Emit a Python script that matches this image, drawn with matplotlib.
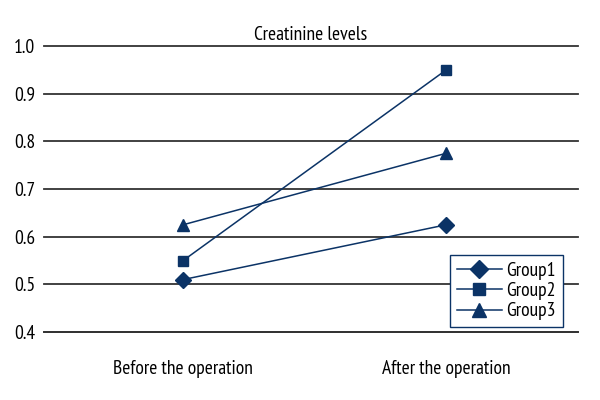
import matplotlib
matplotlib.use('Agg')
import matplotlib.pyplot as plt

plt.rcParams['font.family'] = ['PT Sans Narrow', 'DejaVu Sans']

# data
categories = ['Before the operation', 'After the operation']
group1 = [0.51, 0.625]
group2 = [0.55, 0.95]
group3 = [0.625, 0.775]
labels = ['Group1', 'Group2', 'Group3']
markers = ['D', 's', '^']
yticks = [0.4, 0.5, 0.6, 0.7, 0.8, 0.9, 1.0]

navy = '#0b3366'

fig = plt.figure(figsize=(6, 4), dpi=100)
ax = fig.add_axes([0.073, 0.17, 0.89, 0.715])

x = list(range(len(categories)))
sizes = [8, 7.5, 9]
for vals, lab, mk, ms in zip([group1, group2, group3], labels, markers, sizes):
    ax.plot(x, vals, color=navy, lw=1.1, marker=mk, ms=ms, label=lab, zorder=3)

ax.set_xlim(-0.53, 1.5)
ax.set_ylim(0.4, 1.0)
ax.set_yticks(yticks)
ax.set_yticklabels([f'{v:.1f}' for v in yticks], fontsize=14)
ax.set_xticks(x)
ax.set_xticklabels(categories, fontsize=14)
ax.tick_params(axis='x', length=0, pad=20)
ax.tick_params(axis='y', length=0, pad=6)
ax.grid(axis='y', color='#333333', lw=1.3)
for gl in ax.get_ygridlines():
    gl.set_clip_on(False)
for s in ['top', 'right', 'left']:
    ax.spines[s].set_visible(False)
ax.spines['bottom'].set_color('#333333')
ax.spines['bottom'].set_linewidth(1.3)
ax.set_axisbelow(True)

ax.set_title('Creatinine levels', fontsize=14, pad=4)

leg = ax.legend(loc='lower right', bbox_to_anchor=(0.972, 0.017), fontsize=14,
                frameon=True, fancybox=False, handlelength=2.3, markerscale=1.15,
                handletextpad=0.25, labelspacing=0.12, borderpad=0.35,
                borderaxespad=0.0)
leg.get_frame().set_edgecolor(navy)
leg.get_frame().set_linewidth(1.0)
leg.get_frame().set_alpha(1)

fig.savefig('out.png', dpi=100)
